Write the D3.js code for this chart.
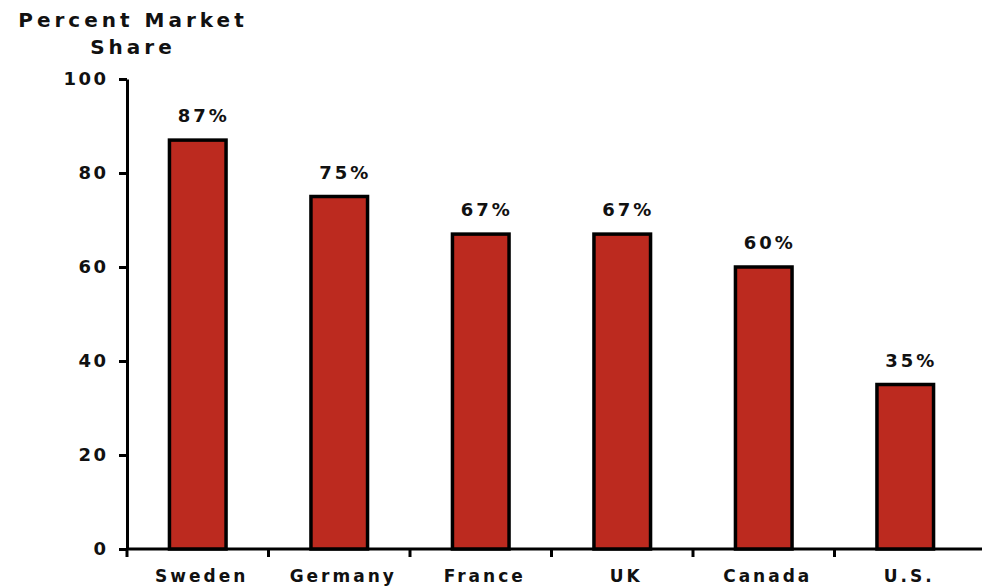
<!DOCTYPE html>
<html>
<head>
<meta charset="utf-8">
<script src="https://cdn.jsdelivr.net/npm/d3@7"></script>
<style>
  html, body { margin: 0; padding: 0; background: #fff; }
  text { font-family: "DejaVu Sans", Verdana, sans-serif; font-weight: bold; fill: #111; }
</style>
</head>
<body>
<div id="chart"></div>
<script>
// data
var countries = ['Sweden', 'Germany', 'France', 'UK', 'Canada', 'U.S.'];
var shares = [87, 75, 67, 67, 60, 35];
var yTicks = [0, 20, 40, 60, 80, 100];

var width = 982, height = 587;

var svg = d3.select('#chart').append('svg')
    .attr('width', width)
    .attr('height', height);

var x = d3.scaleBand()
    .domain(countries)
    .range([127, 976])
    .padding(0);

var y = d3.scaleLinear()
    .domain([0, 100])
    .range([549, 79]);

var barW = x.bandwidth() * 0.4;

//
// y axis
//
var yAxis = svg.append('g')
    .attr('class', 'axis y-axis')
    .attr('transform', 'translate(127,0)')
    .call(d3.axisLeft(y).tickValues(yTicks).tickSize(8).tickSizeOuter(0).tickPadding(13));

yAxis.selectAll('text')
    .style('font-size', '18px')
    .style('letter-spacing', '2.5px')
    .attr('dx', '2.5px')
    .attr('fill', '#111');

//
// x axis: baseline plus ticks between the bands
//
var xAxis = svg.append('g').attr('class', 'axis x-axis');
xAxis.append('line')
    .attr('x1', 127).attr('x2', width)
    .attr('y1', y(0)).attr('y2', y(0));
xAxis.selectAll('line.tick')
    .data(countries)
  .enter().append('line')
    .attr('class', 'tick')
    .attr('x1', function (d) { return x(d); })
    .attr('x2', function (d) { return x(d); })
    .attr('y1', y(0))
    .attr('y2', y(0) + 8);

svg.selectAll('.axis line, .axis path')
    .attr('fill', 'none')
    .attr('stroke', '#000')
    .attr('stroke-width', 3);

// bars
svg.selectAll('rect.bar')
    .data(countries)
  .enter().append('rect')
    .attr('class', 'bar')
    .attr('x', function (d) { return x(d) + x.bandwidth() / 2 - barW / 2; })
    .attr('y', function (d, i) { return y(shares[i]); })
    .attr('width', barW)
    .attr('height', function (d, i) { return y(0) - y(shares[i]); })
    .attr('fill', '#bc2a1f')
    .attr('stroke', '#000')
    .attr('stroke-width', 3.5);

// value labels
svg.selectAll('text.value')
    .data(countries)
  .enter().append('text')
    .attr('class', 'value')
    .attr('x', function (d) { return x(d) + x.bandwidth() / 2 + 6; })
    .attr('y', function (d, i) { return y(shares[i]) - 18; })
    .attr('text-anchor', 'middle')
    .style('font-size', '18px')
    .style('letter-spacing', '3px')
    .text(function (d, i) { return shares[i] + '%'; });

// category labels
svg.selectAll('text.cat')
    .data(countries)
  .enter().append('text')
    .attr('class', 'cat')
    .attr('x', function (d) { return x(d) + x.bandwidth() / 2 + 4; })
    .attr('y', 582)
    .attr('text-anchor', 'middle')
    .style('font-size', '17px')
    .style('letter-spacing', '3px')
    .text(function (d) { return d; });

// axis title
var title = svg.append('text')
    .attr('class', 'title')
    .attr('text-anchor', 'middle')
    .style('font-size', '20px')
    .style('letter-spacing', '4px');
title.append('tspan').attr('x', 133).attr('y', 27).text('Percent Market');
title.append('tspan').attr('x', 133).attr('y', 54).text('Share');
</script>
</body>
</html>
